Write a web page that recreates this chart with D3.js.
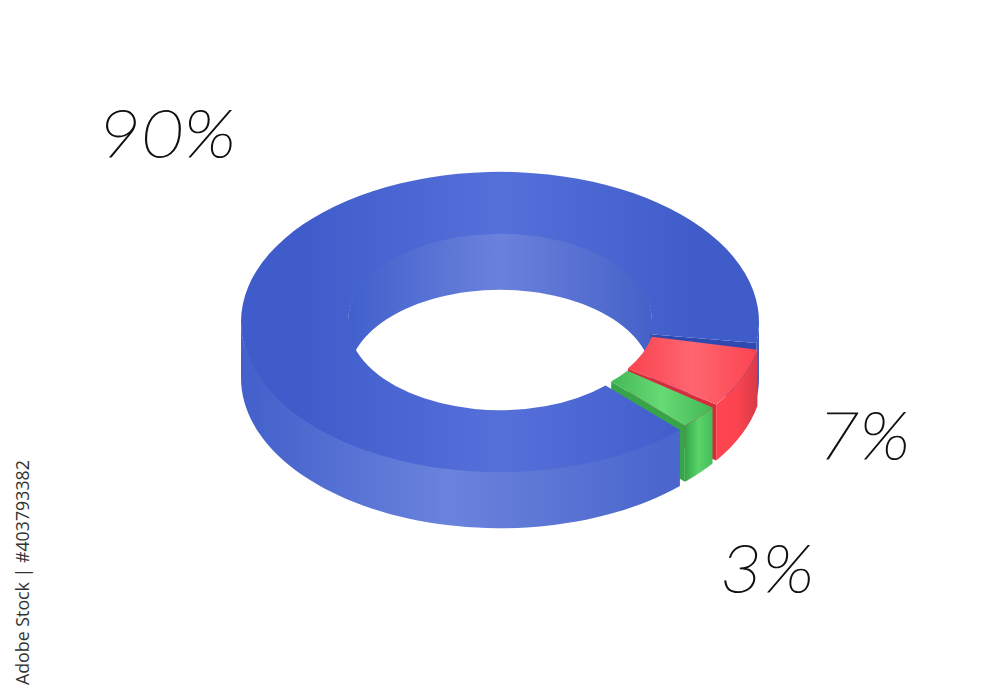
<!DOCTYPE html>
<html>
<head>
	<meta charset="utf-8">
	<title>donut</title>
	<script src="https://d3js.org/d3.v7.min.js"></script>
	<style>
		html, body { margin: 0; background: #fff; }
		svg { display: block; }
	</style>
</head>
<body>
	<div class="chart"></div>

	<script type="text/javascript">
		const shares = [90, 7, 3]
		const labels = ['90%', '7%', '3%']

		const width = 1000
		const height = 700
		const cx = 500
		const cy = 322
		const outer = 259
		const inner = 152
		const squash = 0.58
		const depth = 56
		const rad = Math.PI / 180

		// each piece: pushed away from the blue one, small trim on its ends
		const look = [
			{ dx: 0, dy: 0, r: outer, r0: inner, trimStart: 0, trimEnd: 2, top: ['#3f5cca', '#5670da', '#3f5cc9'], wall: ['#4360cb', '#6a83dc', '#4b67cd'], end: '#3049ae' },
			{ dx: 7, dy: -3, r: outer - 3, r0: inner - 4, trimStart: 2, trimEnd: 0, top: ['#f8434f', '#ff6670', '#fb4450'], wall: ['#ff4451', '#fb4450', '#d93a48'], end: '#d62c3b' },
			{ dx: 7, dy: -3, r: outer - 3, r0: inner - 2, trimStart: 1.4, trimEnd: 0, top: ['#43b856', '#66da74', '#43b856'], wall: ['#33a548', '#5ad46a', '#46bc58'], end: '#36a549' }
		]

		const labelBoxes = [
			{ x: 98, y: 157, w: 138 },
			{ x: 818, y: 459, w: 92 },
			{ x: 720, y: 592, w: 94 }
		]

		const svg = d3.select('.chart').append('svg')
			.attr('width', width)
			.attr('height', height)

		const defs = svg.append('defs')

		function gradient(id, stops, x1, x2) {
			const g = defs.append('linearGradient')
				.attr('id', id)
				.attr('gradientUnits', 'userSpaceOnUse')
				.attr('x1', x1).attr('x2', x2)
				.attr('y1', 0).attr('y2', 0)
			stops.forEach((c, i) => {
				g.append('stop').attr('offset', i / (stops.length - 1)).attr('stop-color', c)
			})
			return `url(#${id})`
		}

		// clockwise from the top, same as d3.pie; blue starts at lower right
		const pie = d3.pie().sort(null).value(d => d)
			.startAngle(136 * rad)
			.endAngle(496 * rad)

		const pieces = pie(shares).map((d, i) => ({
			...d,
			a0: d.startAngle + look[i].trimStart * rad,
			a1: d.endAngle - look[i].trimEnd * rad,
			look: look[i]
		}))

		const xy = (a, r, o, z) => [
			cx + o.dx + r * Math.sin(a),
			cy + o.dy - r * Math.cos(a) * squash + z
		]

		const line = d3.line()

		// band of a cylinder between two angles, lift tucks its top edge under the face
		function wallPath(a0, a1, r, o, lift = 0) {
			const steps = d3.range(0, 61).map(k => a0 + (a1 - a0) * k / 60)
			const upper = steps.map(a => xy(a, r, o, -lift))
			const lower = steps.slice().reverse().map(a => xy(a, r, o, depth))
			return line(upper.concat(lower)) + 'Z'
		}

		function endPath(a, o) {
			return line([xy(a, o.r0, o, 0), xy(a, o.r, o, 0), xy(a, o.r, o, depth), xy(a, o.r0, o, depth)]) + 'Z'
		}

		// the gradient is in the units of the scaled face, so x is relative to its centre
		function topFace(g, d, id, x1, x2) {
			const arc = d3.arc().innerRadius(d.look.r0).outerRadius(d.look.r)
			g.append('path')
				.attr('transform', `translate(${cx + d.look.dx},${cy + d.look.dy}) scale(1,${squash})`)
				.attr('d', arc({ startAngle: d.a0, endAngle: d.a1 }))
				.attr('fill', gradient(id, d.look.top, x1, x2))
		}

		const body = svg.append('g').attr('class', 'ring')
		const [blue, red, green] = pieces
		const blueEndA = blue.a1 - 360 * rad

		// hole wall at the back
		body.append('path')
			.attr('d', wallPath(-90 * rad, 90 * rad, inner, blue.look, 1))
			.attr('fill', gradient('holeWall', ['#4160cb', '#6b82dc', '#4561c8'], cx - inner, cx + inner))

		// bit of blue wall that shows right of the red piece
		body.append('path')
			.attr('d', wallPath(90 * rad, blueEndA, outer, blue.look, 1))
			.attr('fill', '#3f5bc6')
		body.append('path')
			.attr('d', endPath(blueEndA, blue.look))
			.attr('fill', blue.look.end)

		;[red, green].forEach((d, i) => {
			const g = body.append('g')
			const name = i ? 'green' : 'red'
			g.append('path')
				.attr('d', endPath(d.a1, d.look))
				.attr('fill', d.look.end)
			g.append('path')
				.attr('d', wallPath(d.a0, d.a1, d.look.r, d.look))
				.attr('fill', gradient(name + 'Wall', d.look.wall, xy(d.a1, d.look.r, d.look, 0)[0], xy(d.a0, d.look.r, d.look, 0)[0]))
			topFace(g, d, name + 'Top', d.look.r0 * Math.sin(d.a1), d.look.r * Math.sin(d.a0))
		})

		// blue front goes last so it covers the small pieces
		body.append('path')
			.attr('d', wallPath(blue.a0, 270 * rad, outer, blue.look, 1))
			.attr('fill', gradient('blueWall', blue.look.wall, cx - outer, cx + 159))
		topFace(body, blue, 'blueTop', -200, 200)

		svg.append('g').selectAll('text')
			.data(labels)
			.join('text')
			.attr('x', (d, i) => labelBoxes[i].x)
			.attr('y', (d, i) => labelBoxes[i].y)
			.attr('textLength', (d, i) => labelBoxes[i].w)
			.attr('lengthAdjust', 'spacingAndGlyphs')
			.attr('font-family', 'Lato, sans-serif')
			.attr('font-weight', 100)
			.attr('font-style', 'italic')
			.attr('font-size', 66)
			.attr('fill', '#111')
			.attr('stroke', '#111')
			.attr('stroke-width', 1.1)
			.text(d => d)

		svg.append('text')
			.attr('transform', 'translate(29,685) rotate(-90)')
			.attr('font-family', '"Open Sans", sans-serif')
			.attr('font-size', 17.8)
			.attr('fill', '#333')
			.text('Adobe Stock | #403793382')
	</script>
</body>
</html>
